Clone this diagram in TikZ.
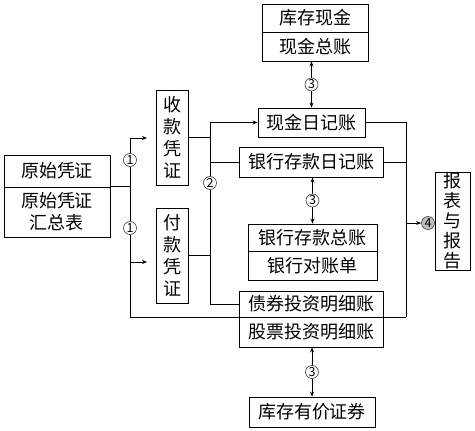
\documentclass[tikz,border=0pt]{standalone}
\usepackage{fontspec}
\setmainfont{Noto Sans CJK SC}
\usetikzlibrary{arrows.meta}

\tikzset{
	box/.style={draw, line width=0.9pt, inner sep=0pt, font=\fontsize{18}{22}\selectfont},
	num/.style={circle, draw=black!75, fill=white, line width=0.6pt, inner sep=0pt, minimum size=13pt, font=\fontsize{12.5}{12.5}\selectfont},
	line/.style={line width=0.9pt},
	arr/.style={line width=0.9pt, -{Stealth[length=5pt,width=4pt]}},
	darr/.style={line width=0.9pt, {Stealth[length=5pt,width=4pt]}-{Stealth[length=5pt,width=4pt]}},
}

\begin{document}
\begin{tikzpicture}[x=1pt,y=-1pt]
	\useasboundingbox (0,0) rectangle (475,431);

	% boxes
	\node[box, minimum width=106pt, minimum height=32pt] (yspz) at (57,171) {原始凭证};
	\node[box, minimum width=106pt, minimum height=50pt, align=center] (ysbb) at (57,212) {原始凭证\\汇总表};
	\node[box, minimum width=32pt, minimum height=95pt, align=center] (skpz) at (172,137.5) {收\\款\\凭\\证};
	\node[box, minimum width=32pt, minimum height=95pt, align=center] (fkpz) at (172,255.5) {付\\款\\凭\\证};

	\node[box, minimum width=106pt, minimum height=28pt] (kcxj) at (315,18) {库存现金};
	\node[box, minimum width=106pt, minimum height=29pt] (xjzz) at (315,46.5) {现金总账};
	\node[box, minimum width=107pt, minimum height=29pt] (xjrjz) at (311.5,122.5) {现金日记账};
	\node[box, minimum width=144pt, minimum height=30pt] (yhrjz) at (311,162) {银行存款日记账};
	\node[box, minimum width=129pt, minimum height=27pt] (yhzz) at (312.5,237.5) {银行存款总账};
	\node[box, minimum width=129pt, minimum height=29pt] (yhdzd) at (312.5,265.5) {银行对账单};
	\node[box, minimum width=144pt, minimum height=26pt] (zqmx) at (311,304) {债券投资明细账};
	\node[box, minimum width=144pt, minimum height=30pt] (gpmx) at (311,332) {股票投资明细账};
	\node[box, minimum width=126pt, minimum height=30pt] (kcyj) at (312,412) {库存有价证券};
	\node[box, minimum width=35pt, minimum height=98pt, align=center, font=\fontsize{18}{20}\selectfont] (bbbg) at (452.5,221) {报\\表\\与\\报\\告};

	% trunk points
	\coordinate (ta) at (130,138);
	\coordinate (sa) at (147,138);
	\coordinate (tc) at (130,262);
	\coordinate (sc) at (147,262);
	\coordinate (tb) at (130,317);
	\coordinate (sb) at (210,0);
	\coordinate (rt) at (406,0);

	% from the vouchers
	\draw[arr] (ysbb.north east) -- (ysbb.north east -| ta) -- (ta) -- (sa);
	\draw[arr] (ysbb.north east -| ta) -- (tc) -- (sc);
	\draw[line] (tc) -- (tb) -- (tb -| rt);

	% to the journals
	\draw[line] (skpz.east) -- (skpz.east -| sb);
	\draw[line] (fkpz.east) -- (fkpz.east -| sb);
	\draw[arr] (zqmx.west) -- (zqmx.west -| sb) -- (xjrjz.west -| sb) -- (xjrjz.west);
	\draw[line] (yhrjz.west -| sb) -- (yhrjz.west);

	% to the reports
	\draw[line] (xjrjz.east) -- (xjrjz.east -| rt) -- (tb -| rt);
	\draw[line] (yhrjz.east) -- (yhrjz.east -| rt);
	\node[num, fill=black!25] (n4) at (428,223) {4};
	\draw[arr] (n4 -| rt) -- (n4.west);

	% checks
	\draw[darr] (xjrjz.north) -- (xjrjz.north |- xjzz.south) node[num, midway] (n3a) {3};
	\draw[darr] (yhzz.north |- yhrjz.south) -- (yhzz.north) node[num, midway] (n3b) {3};
	\draw[darr] (kcyj.north |- gpmx.south) -- (kcyj.north) node[num, midway] (n3c) {3};

	\node[num] (n1a) at (130,160) {1};
	\node[num] (n1b) at (130,228) {1};
	\node[num] (n2) at (210,183) {2};
\end{tikzpicture}
\end{document}
